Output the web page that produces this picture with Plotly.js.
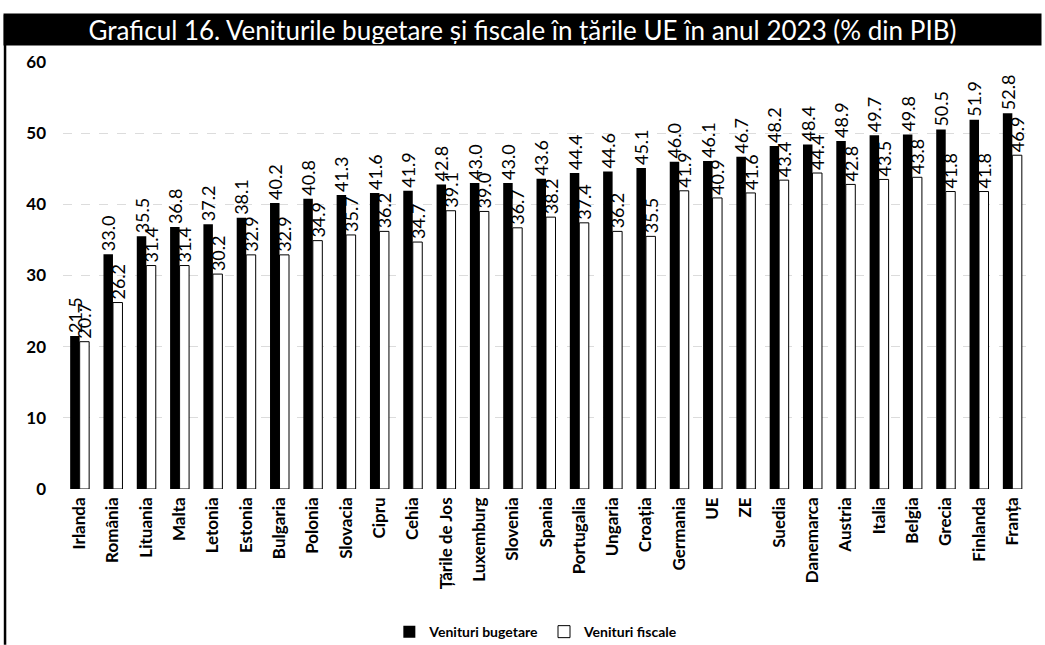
<!DOCTYPE html>
<html>
<head>
<meta charset="utf-8">
<script src="https://cdn.plot.ly/plotly-3.0.1.min.js"></script>
<style>html,body{margin:0;padding:0;background:#fff;}#chart{width:1045px;height:645px;}</style>
</head>
<body>
<div id="chart"></div>
<script>
const categories = ["Irlanda","România","Lituania","Malta","Letonia","Estonia","Bulgaria","Polonia","Slovacia","Cipru","Cehia","Țările de Jos","Luxemburg","Slovenia","Spania","Portugalia","Ungaria","Croația","Germania","UE","ZE","Suedia","Danemarca","Austria","Italia","Belgia","Grecia","Finlanda","Franța"];
const venituriBugetare = [21.5,33.0,35.5,36.8,37.2,38.1,40.2,40.8,41.3,41.6,41.9,42.8,43.0,43.0,43.6,44.4,44.6,45.1,46.0,46.1,46.7,48.2,48.4,48.9,49.7,49.8,50.5,51.9,52.8];
const venituriFiscale = [20.7,26.2,31.4,31.4,30.2,32.9,32.9,34.9,35.7,36.2,34.7,39.1,39.0,36.7,38.2,37.4,36.2,35.5,41.9,40.9,41.6,43.4,44.4,42.8,43.5,43.8,41.8,41.8,46.9];
const yTicks = [0,10,20,30,40,50,60];
const seriesNames = ["Venituri bugetare","Venituri fiscale"];
const titleText = "Graficul 16. Veniturile bugetare și fiscale în țările UE în anul 2023 (% din PIB)";

const FONT = "Lato, 'Open Sans', 'DejaVu Sans', sans-serif";

const traces = [
  {
    type: "bar", name: seriesNames[0], x: categories, y: venituriBugetare,
    marker: {color: "#000000", line: {color: "#000000", width: 0}},
    text: venituriBugetare.map(v => v.toFixed(1)),
    textposition: "outside", textangle: -90, constraintext: "none", cliponaxis: false,
    textfont: {family: FONT, size: 18, color: "#000"},
    hoverinfo: "x+y"
  },
  {
    type: "bar", name: seriesNames[1], x: categories, y: venituriFiscale,
    marker: {color: "#ffffff", line: {color: "#000000", width: 1}},
    text: venituriFiscale.map(v => v.toFixed(1)),
    textposition: "outside", textangle: -90, constraintext: "none", cliponaxis: false,
    textfont: {family: FONT, size: 18, color: "#000"},
    hoverinfo: "x+y"
  }
];

const layout = {
  width: 1045, height: 645,
  margin: {l: 63, r: 16, t: 62, b: 156, autoexpand: false},
  paper_bgcolor: "#fff", plot_bgcolor: "#fff",
  barmode: "group", bargap: 0.43, bargroupgap: 0,
  showlegend: true,
  legend: {orientation: "h", x: 0.49, xanchor: "center", y: -0.335, yanchor: "middle",
           font: {family: FONT, size: 14, color: "#000", weight: "bold"}, traceorder: "normal",
           itemwidth: 30, tracegroupgap: 0},
  xaxis: {
    type: "category", tickangle: -90, showline: false, showgrid: false, ticks: "",
    automargin: false, ticklabelstandoff: 4,
    tickfont: {family: FONT, size: 17, color: "#000", weight: "bold"}
  },
  yaxis: {
    range: [0, 60], tickvals: yTicks, ticktext: yTicks.map(String), automargin: false,
    showline: false, zeroline: false, showgrid: true, gridcolor: "#dcdcdc", griddash: "dash", gridwidth: 1,
    ticks: "", ticklabelstandoff: 16,
    tickfont: {family: FONT, size: 17, color: "#000", weight: "bold"}
  },
  shapes: [
    {type: "line", xref: "paper", yref: "paper", x0: -0.060, x1: -0.060, y0: -0.365, y1: 1.11,
     line: {color: "#000", width: 2.5}}
  ],
  annotations: [
    {xref: "paper", yref: "paper", x: 0.4755, y: 1.077, xanchor: "center", yanchor: "middle",
     text: titleText, showarrow: false, width: 1035, height: 29, bgcolor: "#000",
     font: {family: FONT, size: 26, color: "#fff"}}
  ]
};

Plotly.newPlot("chart", traces, layout, {displayModeBar: false, staticPlot: true});
</script>
</body>
</html>
